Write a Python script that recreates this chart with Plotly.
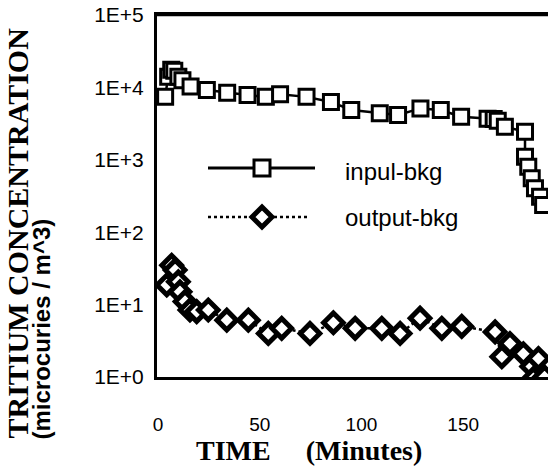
import plotly.graph_objects as go

# ---- data ----
input_time = [3.5, 5, 6.5, 8, 10, 12, 16, 24, 34, 44, 53, 60, 73, 85, 95, 109, 118,
              129, 139, 149, 162, 165, 167, 170.5, 180.4, 180.4, 182, 183.7, 185.3,
              187.8, 189.3]
input_conc = [7450, 14000, 17500, 17000, 14000, 12600, 10300, 9200, 8450, 7850, 7400,
              8030, 7400, 6300, 4870, 4390, 4170, 5130, 4870, 3940, 3700, 3650, 3450,
              2870, 2440, 1100, 800, 555, 405, 310, 238]

output_time = [4.3, 6.7, 8.4, 10, 10.8, 13.3, 15.7, 19, 24.7, 33.8, 44.4, 54.2, 60.8,
               74.7, 86.2, 96.9, 110, 119, 128.8, 139.5, 149.3, 165.7, 169, 173, 179.6,
               183.7, 184.5, 187, 190]
output_conc = [18.7, 35, 30, 20.7, 15, 11, 8.4, 8.0, 8.4, 6.1, 6.1, 4.0, 4.7, 4.0, 5.6,
               4.7, 4.7, 4.0, 6.5, 4.7, 5.0, 4.2, 1.9, 2.9, 2.1, 1.4, 0.95, 1.8, 1.0]

y_tickvals = [1, 10, 100, 1000, 10000, 100000]
y_ticktext = ["1E+0", "1E+1", "1E+2", "1E+3", "1E+4", "1E+5"]
x_tickvals = [0, 50, 100, 150]
x_ticktext = ["0", "50", "100", "150"]

series_names = ["inpul-bkg", "output-bkg"]

# ---- figure ----
fig = go.Figure()
fig.add_trace(go.Scatter(
    x=input_time, y=input_conc, mode="lines+markers", name=series_names[0],
    line=dict(color="black", width=2.5),
    marker=dict(symbol="square", size=15, color="white",
                line=dict(color="black", width=3)),
    showlegend=False))
fig.add_trace(go.Scatter(
    x=output_time, y=output_conc, mode="lines+markers", name=series_names[1],
    line=dict(color="black", width=2.5, dash="dot"),
    marker=dict(symbol="diamond", size=15, color="white",
                line=dict(color="black", width=5)),
    showlegend=False))

L, R, T, B = 157, 548, 15, 377
W, H = 550, 466
pw, ph = R - L, B - T


def px(x):
    return (x - L) / pw


def py(y):
    return (B - y) / ph


fig.update_layout(
    template="none",
    width=W, height=H,
    margin=dict(l=L, r=W - R, t=T, b=H - B, autoexpand=False),
    paper_bgcolor="white", plot_bgcolor="white",
    showlegend=False,
    font=dict(family="Liberation Sans, Arial, sans-serif", color="black"),
)
fig.update_xaxes(
    range=[-0.5, 191.7], showgrid=False, zeroline=False, automargin=False,
    showline=True, linecolor="black", linewidth=3, mirror=True,
    tickvals=x_tickvals, ticktext=x_ticktext, ticks="",
    ticklabelstandoff=28,
    tickfont=dict(size=19, family="Liberation Sans, Arial, sans-serif"),
)
fig.update_yaxes(
    type="log", range=[0, 5], showgrid=False, zeroline=False, automargin=False,
    showline=True, linecolor="black", linewidth=3, mirror=False,
    tickvals=y_tickvals, ticktext=y_ticktext, ticks="",
    ticklabelstandoff=6,
    tickfont=dict(size=21, family="Liberation Sans, Arial, sans-serif"),
)

annotations = [
    dict(text="TRITIUM CONCENTRATION", x=px(17), y=py(441), xref="paper", yref="paper",
         xanchor="center", yanchor="bottom", textangle=-90, showarrow=False,
         font=dict(family="Liberation Serif, Times New Roman, serif", size=30,
                   color="black", weight="bold")),
    dict(text="(microcuries / m^3)", x=px(41), y=py(442), xref="paper", yref="paper",
         xanchor="center", yanchor="bottom", textangle=-90, showarrow=False,
         font=dict(family="Liberation Sans, Arial, sans-serif", size=24,
                   color="black", weight="bold")),
    dict(text="TIME\u00a0\u00a0\u00a0\u00a0\u00a0(Minutes)", x=px(309), y=py(450),
         xref="paper", yref="paper", xanchor="center", yanchor="middle",
         showarrow=False,
         font=dict(family="Liberation Serif, Times New Roman, serif", size=28,
                   color="black", weight="bold")),
    dict(text=series_names[0], x=px(343), y=py(171), xref="paper", yref="paper",
         xanchor="left", yanchor="middle", showarrow=False,
         font=dict(family="Liberation Sans, Arial, sans-serif", size=24, color="black")),
    dict(text=series_names[1], x=px(343), y=py(217), xref="paper", yref="paper",
         xanchor="left", yanchor="middle", showarrow=False,
         font=dict(family="Liberation Sans, Arial, sans-serif", size=24, color="black")),
]
fig.update_layout(annotations=annotations)

# legend keys drawn as shapes, plus the top frame line
sq_cx, sq_cy, sq_h = 262, 168, 8
dm_cx, dm_cy, dm_h = 262, 217, 10
shapes = [
    dict(type="line", xref="paper", yref="paper", x0=0, x1=1, y0=1, y1=1,
         line=dict(color="black", width=2.5)),
    dict(type="line", xref="paper", yref="paper", x0=px(208), x1=px(315),
         y0=py(168), y1=py(168), line=dict(color="black", width=3)),
    dict(type="rect", xref="paper", yref="paper",
         x0=px(sq_cx - sq_h), x1=px(sq_cx + sq_h), y0=py(sq_cy + sq_h), y1=py(sq_cy - sq_h),
         fillcolor="white", line=dict(color="black", width=3)),
    dict(type="line", xref="paper", yref="paper", x0=px(208), x1=px(310),
         y0=py(217), y1=py(217), line=dict(color="black", width=2.5, dash="dot")),
    dict(type="path", xref="paper", yref="paper",
         path=(f"M {px(dm_cx)},{py(dm_cy - dm_h)} L {px(dm_cx + dm_h)},{py(dm_cy)} "
               f"L {px(dm_cx)},{py(dm_cy + dm_h)} L {px(dm_cx - dm_h)},{py(dm_cy)} Z"),
         fillcolor="white", line=dict(color="black", width=5)),
]
fig.update_layout(shapes=shapes)

fig.write_html(
    "out.html",
    config={"displayModeBar": False},
    post_script="document.body.style.margin='0';document.body.style.overflow='hidden';",
)
